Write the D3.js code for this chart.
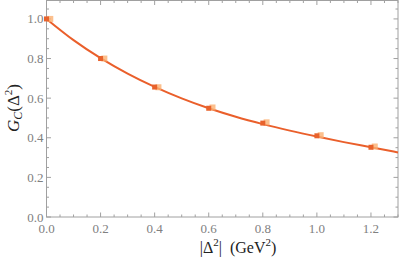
<!DOCTYPE html>
<html>
<head>
<meta charset="utf-8">
<script src="https://cdn.jsdelivr.net/npm/d3@7"></script>
<style>
  body { margin: 0; background: #fff; }
</style>
</head>
<body>
<svg></svg>
<script>
const width = 399;
const height = 265;
const margin = { top: 0, right: 1, bottom: 48, left: 46.5 };
const serif = "'Liberation Serif', 'DejaVu Serif', serif";

// lattice points (dark) and second set (light, drawn slightly shifted)
const deltaSq = [0.0, 0.2, 0.4, 0.6, 0.8, 1.0, 1.2];
const gcDark = [1.0, 0.800, 0.656, 0.549, 0.474, 0.410, 0.352];
const gcLight = [1.0, 0.800, 0.655, 0.553, 0.478, 0.413, 0.356];

// fit curve
const curveX = [0.0, 0.1, 0.2, 0.3, 0.4, 0.5, 0.6, 0.7, 0.8, 0.9, 1.0, 1.1, 1.2, 1.3];
const curveY = [1.0, 0.893, 0.802, 0.724, 0.657, 0.599, 0.549, 0.506, 0.469, 0.436, 0.406, 0.378, 0.352, 0.326];

const xTicks = [0.0, 0.2, 0.4, 0.6, 0.8, 1.0, 1.2];
const yTicks = [0.0, 0.2, 0.4, 0.6, 0.8, 1.0];

const svg = d3.select("svg").attr("width", width).attr("height", height);

const x = d3.scaleLinear().domain([0, 1.3]).range([margin.left, width - margin.right]);
const y = d3.scaleLinear().domain([0, 1.093]).range([217, margin.top + 0.5]);

const axisColor = "#a0a0a0";
const labelColor = "#808080";

// frame
svg.append("rect")
  .attr("x", x(0)).attr("y", y(1.093))
  .attr("width", x(1.3) - x(0)).attr("height", y(0) - y(1.093))
  .attr("fill", "none").attr("stroke", axisColor).attr("stroke-width", 1);

const xMinor = d3.range(0, 1.3001, 0.05);
const yMinor = d3.range(0, 1.0901, 0.05);

function tickLen(v) {
  return Math.abs(v / 0.2 - Math.round(v / 0.2)) < 1e-6 ? 4.5 : 2.5;
}

// x ticks bottom and top (inward)
svg.append("g").selectAll("line")
  .data(xMinor)
  .join("line")
  .attr("x1", d => x(d)).attr("x2", d => x(d))
  .attr("y1", y(0)).attr("y2", d => y(0) - tickLen(d))
  .attr("stroke", axisColor);
svg.append("g").selectAll("line")
  .data(xMinor)
  .join("line")
  .attr("x1", d => x(d)).attr("x2", d => x(d))
  .attr("y1", y(1.093)).attr("y2", d => y(1.093) + tickLen(d))
  .attr("stroke", axisColor);

// y ticks left and right
svg.append("g").selectAll("line")
  .data(yMinor)
  .join("line")
  .attr("y1", d => y(d)).attr("y2", d => y(d))
  .attr("x1", x(0)).attr("x2", d => x(0) + tickLen(d))
  .attr("stroke", axisColor);
svg.append("g").selectAll("line")
  .data(yMinor)
  .join("line")
  .attr("y1", d => y(d)).attr("y2", d => y(d))
  .attr("x1", x(1.3)).attr("x2", d => x(1.3) - tickLen(d))
  .attr("stroke", axisColor);

// tick labels
svg.append("g").selectAll("text")
  .data(xTicks)
  .join("text")
  .attr("x", d => x(d)).attr("y", y(0) + 16)
  .attr("text-anchor", "middle")
  .attr("font-family", serif)
  .attr("font-size", 13).attr("fill", labelColor)
  .text(d => d3.format(".1f")(d));

svg.append("g").selectAll("text")
  .data(yTicks)
  .join("text")
  .attr("x", x(0) - 3).attr("y", d => y(d) + 4.5)
  .attr("text-anchor", "end")
  .attr("font-family", serif)
  .attr("font-size", 13).attr("fill", labelColor)
  .text(d => d3.format(".1f")(d));

// fit curve
const line = d3.line()
  .x((d, i) => x(curveX[i]))
  .y(d => y(d))
  .curve(d3.curveMonotoneX);

svg.append("path")
  .datum(curveY)
  .attr("d", line)
  .attr("fill", "none")
  .attr("stroke", "#ea5f2b")
  .attr("stroke-width", 2);

// light squares (shifted)
svg.append("g").selectAll("rect")
  .data(gcLight)
  .join("rect")
  .attr("x", (d, i) => x(deltaSq[i] + 0.014) - 3)
  .attr("y", d => y(d) - 3)
  .attr("width", 6).attr("height", 6)
  .attr("fill", "#fbb072").attr("opacity", 0.8);

// dark squares
svg.append("g").selectAll("rect")
  .data(gcDark)
  .join("rect")
  .attr("x", (d, i) => x(deltaSq[i]) - 2.5)
  .attr("y", d => y(d) - 2.5)
  .attr("width", 5).attr("height", 5)
  .attr("fill", "#e8622c");

// axis labels
const yl = svg.append("text")
  .attr("transform", "translate(19,108) rotate(-90)")
  .attr("text-anchor", "middle")
  .attr("font-family", serif)
  .attr("font-size", 17).attr("fill", "#222");
yl.append("tspan").attr("font-style", "italic").text("G");
yl.append("tspan").attr("font-style", "italic").attr("font-size", 12).attr("dy", 3).text("C");
yl.append("tspan").attr("dy", -3).text("(Δ");
yl.append("tspan").attr("font-size", 11).attr("dy", -7).text("2");
yl.append("tspan").attr("dy", 7).text(")");

const xl = svg.append("text")
  .attr("x", 238).attr("y", 253)
  .attr("text-anchor", "middle")
  .attr("font-family", serif)
  .attr("font-size", 16).attr("fill", "#222");
xl.append("tspan").text("|Δ");
xl.append("tspan").attr("font-size", 11).attr("dy", -7).text("2");
xl.append("tspan").attr("dy", 7).text("|\u00a0\u00a0(GeV");
xl.append("tspan").attr("font-size", 11).attr("dy", -7).text("2");
xl.append("tspan").attr("dy", 7).text(")");
</script>
</body>
</html>
